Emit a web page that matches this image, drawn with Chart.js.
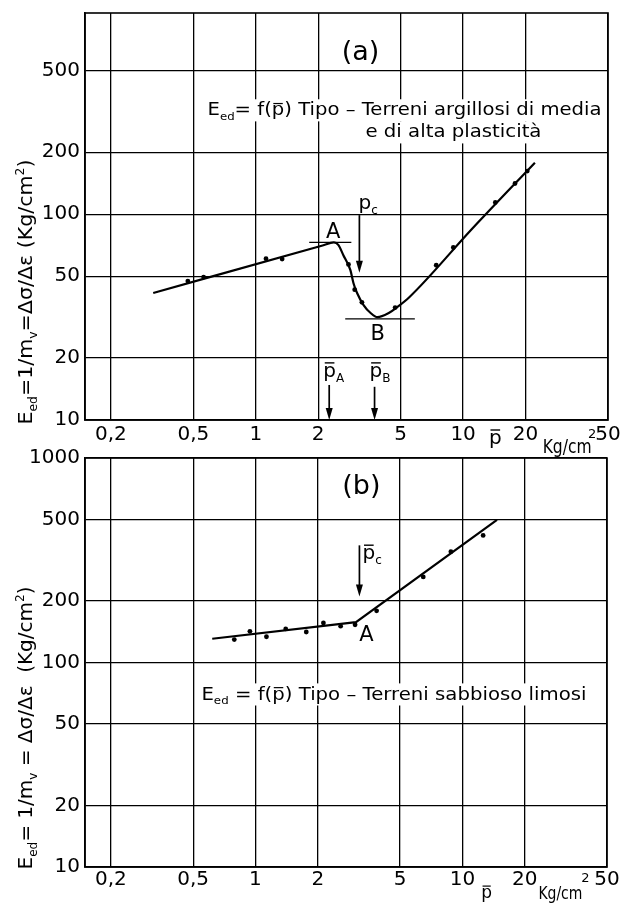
<!DOCTYPE html>
<html>
<head>
<meta charset="utf-8">
<script src="https://cdn.jsdelivr.net/npm/chart.js@4.4.1/dist/chart.umd.min.js"></script>
<style>
html, body { margin: 0; padding: 0; background: #fff; }
#wrap { position: relative; width: 623px; height: 904px; overflow: hidden; }
canvas { position: absolute; left: 0; }
</style>
</head>
<body>
<div id="wrap">
  <canvas id="chartA" width="623" height="460" style="top:0"></canvas>
  <canvas id="chartB" width="623" height="458" style="top:446px"></canvas>
</div>
<script>
const FONT = '"DejaVu Sans", sans-serif';

// axes
const xTicks = [0.2, 0.5, 1, 2, 5, 10, 20, 50];
const yTicksA = [10, 20, 50, 100, 200, 500];
const yTicksB = [10, 20, 50, 100, 200, 500, 1000];

// (a) clay curve
const curveAP = [0.32, 2.1, 2.38, 2.5, 2.645, 2.86, 2.96, 3.08, 3.31, 3.58, 3.86, 4.4, 4.8, 5.5, 11, 22.2];
const curveAE = [41.4, 70.5, 73, 71, 63.2, 53.5, 46.2, 41.4, 36.2, 33.1, 31.6, 33.2, 35.3, 39.5, 84.5, 178];
// (a) measured points
const dotsAP = [0.47, 0.56, 1.12, 1.34, 2.8, 3.0, 3.25, 4.7, 7.42, 8.97, 14.3, 17.8, 20.4];
const dotsAE = [47.3, 49.5, 60.8, 60.5, 57, 43, 37.3, 35.2, 56.5, 68.9, 114, 141, 162];
// (a) tangents at A and B
const tanAP = [1.81, 2.89], tanAE = [73, 73];
const tanBP = [2.70, 5.85], tanBE = [31, 31];
// (a) arrows p_c, pA, pB
const arrAP = [3.16, 2.26, 3.74];
const arrAFrom = [99, 14.8, 14.5];
const arrATo = [52, 10, 10];

// (b) sandy silt line
const lineBP = [0.618, 3.06, 14.7];
const lineBE = [130.7, 157.6, 498];
const dotsBP = [0.79, 0.94, 1.13, 1.40, 1.76, 2.13, 2.58, 3.03, 3.85, 6.47, 8.8, 12.6];
const dotsBE = [129.5, 142, 133.6, 146, 141, 156, 150.6, 153, 179, 262, 348, 418];
const arrBP = [3.18];
const arrBFrom = [374];
const arrBTo = [210];

const pts = (xs, ys) => xs.map((x, i) => ({ x: x, y: ys[i] }));

function richText(ctx, segs, x, y, size, o) {
  o = o || {};
  ctx.save();
  const parts = segs.map(([t, k]) => {
    const fs = (k === 'sub' || k === 'sup') ? size * 0.6 : size;
    ctx.font = fs + 'px ' + FONT;
    return { t: t, k: k, fs: fs, w: ctx.measureText(t).width };
  });
  const w = parts.reduce((s, p) => s + p.w, 0);
  const sx = o.width ? o.width / w : 1;
  ctx.translate(x, y);
  if (o.rotate) ctx.rotate(o.rotate);
  ctx.scale(sx, 1);
  let cx = o.align === 'center' ? -w / 2 : o.align === 'right' ? -w : 0;
  if (o.bgOnly) {
    ctx.fillStyle = '#fff';
    ctx.fillRect(cx - 5 / sx, -size * 0.95, w + 10 / sx, size * 1.3);
    ctx.restore();
    return;
  }
  ctx.fillStyle = '#000';
  ctx.strokeStyle = '#000';
  ctx.textAlign = 'left';
  ctx.textBaseline = 'alphabetic';
  for (const p of parts) {
    ctx.font = p.fs + 'px ' + FONT;
    const dy = p.k === 'sub' ? size * 0.25 : p.k === 'sup' ? -size * 0.4 : 0;
    ctx.fillText(p.t, cx, dy);
    if (p.k === 'bar') {
      ctx.lineWidth = Math.max(1.2, size * 0.07);
      ctx.beginPath();
      ctx.moveTo(cx + p.w * 0.12, -size * 0.7);
      ctx.lineTo(cx + p.w * 0.88, -size * 0.7);
      ctx.stroke();
    }
    cx += p.w;
  }
  ctx.restore();
}

const annotate = {
  id: 'annotate',
  afterDatasetsDraw(chart, args, opts) {
    const ctx = chart.ctx, area = chart.chartArea;
    const X = v => chart.scales.x.getPixelForValue(v);
    const Y = v => chart.scales.y.getPixelForValue(v);

    // arrows
    ctx.save();
    ctx.strokeStyle = '#000';
    ctx.fillStyle = '#000';
    ctx.lineWidth = 1.7;
    opts.arrows.p.forEach((p, i) => {
      const x = X(p), y1 = Y(opts.arrows.from[i]), y2 = Y(opts.arrows.to[i]);
      ctx.beginPath();
      ctx.moveTo(x, y1);
      ctx.lineTo(x, y2 - 8);
      ctx.stroke();
      ctx.beginPath();
      ctx.moveTo(x - 3.5, y2 - 12);
      ctx.lineTo(x + 3.5, y2 - 12);
      ctx.lineTo(x, y2);
      ctx.closePath();
      ctx.fill();
    });
    ctx.restore();

    const place = t => ({
      x: X(t.p),
      y: t.dy !== undefined ? area.bottom + t.dy : Y(t.e)
    });
    opts.texts.filter(t => t.bg).forEach(t => {
      const q = place(t);
      richText(ctx, t.segs, q.x, q.y, t.size, { width: t.width, align: t.align, bgOnly: true });
    });
    opts.texts.forEach(t => {
      const q = place(t);
      richText(ctx, t.segs, q.x, q.y, t.size, { width: t.width, align: t.align });
    });

    // frame
    ctx.save();
    ctx.strokeStyle = '#000';
    ctx.lineWidth = 1.6;
    ctx.strokeRect(area.left, area.top, area.right - area.left, area.bottom - area.top);
    ctx.restore();

    // y axis title
    const ti = opts.title;
    richText(ctx, ti.segs, ti.x, ti.y, ti.size, { width: ti.width, align: 'center', rotate: -Math.PI / 2 });
  }
};

function buildChart(id, o) {
  return new Chart(document.getElementById(id), {
    type: 'line',
    data: { datasets: o.datasets },
    options: {
      responsive: false,
      animation: false,
      devicePixelRatio: 1,
      layout: { padding: o.padding },
      plugins: {
        legend: { display: false },
        tooltip: { enabled: false },
        annotate: o.annotate
      },
      scales: {
        x: {
          type: 'logarithmic',
          min: 0.15,
          max: 50,
          afterBuildTicks: s => { s.ticks = xTicks.map(v => ({ value: v })); },
          afterFit: s => { s.height = o.xHeight; s.paddingLeft = 0; s.paddingRight = 0; },
          ticks: {
            autoSkip: false,
            maxRotation: 0,
            padding: o.xPad,
            color: '#000',
            font: { family: FONT, size: 20 },
            callback: v => String(v).replace('.', ',')
          },
          grid: { color: '#000', lineWidth: 1.3, drawTicks: false },
          border: { color: '#000', width: 1.6 }
        },
        y: {
          type: 'logarithmic',
          min: 10,
          max: o.yMax,
          afterBuildTicks: s => { s.ticks = o.yTicks.map(v => ({ value: v })); },
          afterFit: s => { s.width = 85; s.paddingTop = 0; s.paddingBottom = 0; },
          ticks: {
            padding: 5,
            color: '#000',
            font: { family: FONT, size: 20 },
            callback: v => String(v)
          },
          grid: { color: '#000', lineWidth: 1.3, drawTicks: false },
          border: { color: '#000', width: 1.6 }
        }
      }
    },
    plugins: [annotate]
  });
}

const lineStyle = { borderColor: '#000', borderWidth: 2.2, pointRadius: 0, fill: false };
const dotStyle = { showLine: false, pointRadius: 2.4, pointBackgroundColor: '#000', pointBorderWidth: 0 };
const thin = { borderColor: '#000', borderWidth: 1.4, pointRadius: 0, fill: false, tension: 0 };

buildChart('chartA', {
  padding: { top: 13, right: 15, left: 0, bottom: 0 },
  xHeight: 40,
  xPad: 3,
  yMax: 950,
  yTicks: yTicksA,
  datasets: [
    Object.assign({ data: pts(curveAP, curveAE), cubicInterpolationMode: 'monotone' }, lineStyle),
    Object.assign({ data: pts(dotsAP, dotsAE) }, dotStyle),
    Object.assign({ data: pts(tanAP, tanAE) }, thin),
    Object.assign({ data: pts(tanBP, tanBE) }, thin)
  ],
  annotate: {
    arrows: { p: arrAP, from: arrAFrom, to: arrATo },
    title: {
      segs: [['E', ''], ['ed', 'sub'], ['=1/m', ''], ['v', 'sub'], ['=Δσ/Δε (Kg/cm', ''], ['2', 'sup'], [')', '']],
      x: 32, y: 292, size: 20, width: 265
    },
    texts: [
      { segs: [['(a)', '']], p: 3.2, e: 559, size: 27, align: 'center' },
      { segs: [['E', ''], ['ed', 'sub'], ['= f(', ''], ['p', 'bar'], [') Tipo – Terreni argillosi di media', '']],
        p: 0.585, e: 302, size: 17, width: 394, bg: true },
      { segs: [['e di alta plasticità', '']], p: 3.38, e: 236, size: 17, width: 176, bg: true },
      { segs: [['A', '']], p: 2.36, e: 76.4, size: 21, align: 'center' },
      { segs: [['B', '']], p: 3.87, e: 24.5, size: 21, align: 'center' },
      { segs: [['p', ''], ['c', 'sub']], p: 3.13, e: 105.8, size: 20 },
      { segs: [['p', 'bar'], ['A', 'sub']], p: 2.115, e: 16.2, size: 20 },
      { segs: [['p', 'bar'], ['B', 'sub']], p: 3.54, e: 16.2, size: 20 },
      { segs: [['p', 'bar']], p: 14.3, dy: 24, size: 20, align: 'center' },
      { segs: [['Kg/cm', '']], p: 24.2, dy: 33, size: 20, width: 49 },
      { segs: [['2', '']], p: 40, dy: 18, size: 13 }
    ]
  }
});

buildChart('chartB', {
  padding: { top: 12, right: 16, left: 0, bottom: 0 },
  xHeight: 37,
  xPad: 1,
  yMax: 1000,
  yTicks: yTicksB,
  datasets: [
    Object.assign({ data: pts(lineBP, lineBE), tension: 0 }, lineStyle),
    Object.assign({ data: pts(dotsBP, dotsBE) }, dotStyle)
  ],
  annotate: {
    arrows: { p: arrBP, from: arrBFrom, to: arrBTo },
    title: {
      segs: [['E', ''], ['ed', 'sub'], ['= 1/m', ''], ['v', 'sub'], [' = Δσ/Δε  (Kg/cm', ''], ['2', 'sup'], [')', '']],
      x: 32, y: 282, size: 20, width: 283
    },
    texts: [
      { segs: [['(b)', '']], p: 3.25, e: 666, size: 27, align: 'center' },
      { segs: [['E', ''], ['ed', 'sub'], [' = f(', ''], ['p', 'bar'], [') Tipo – Terreni sabbioso limosi', '']],
        p: 0.548, e: 65.9, size: 17, width: 385, bg: true },
      { segs: [['A', '']], p: 3.44, e: 126.8, size: 21, align: 'center' },
      { segs: [['p', 'bar'], ['c', 'sub']], p: 3.29, e: 320, size: 20 },
      { segs: [['p', 'bar']], p: 13.1, dy: 31, size: 17, align: 'center' },
      { segs: [['Kg/cm', '']], p: 23.3, dy: 32, size: 17, width: 44 },
      { segs: [['2', '']], p: 37.5, dy: 15, size: 13 }
    ]
  }
});
</script>
</body>
</html>
